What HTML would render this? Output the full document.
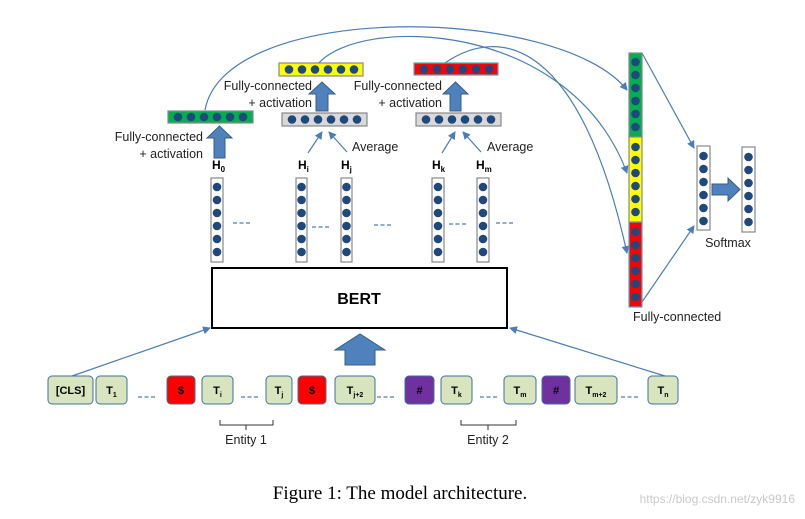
<!DOCTYPE html>
<html><head><meta charset="utf-8"><style>
html,body{margin:0;padding:0;background:#fff;width:805px;height:519px;overflow:hidden}
text{font-family:"Liberation Sans",sans-serif}
</style></head><body>
<svg width="805" height="519" viewBox="0 0 805 519" xmlns="http://www.w3.org/2000/svg">
<defs>
<marker id="ah" markerWidth="8" markerHeight="8" refX="7" refY="4" orient="auto" markerUnits="userSpaceOnUse">
<path d="M0,0 L8,4 L0,8 z" fill="#4a7ebb"/></marker>
<g id="col"><circle cx="0" cy="0" r="4.3"/><circle cx="0" cy="13" r="4.3"/><circle cx="0" cy="26" r="4.3"/><circle cx="0" cy="39" r="4.3"/><circle cx="0" cy="52" r="4.3"/><circle cx="0" cy="65" r="4.3"/></g>
</defs>
<g fill="none" stroke="#4a7ebb" stroke-width="1.2">
<path d="M205,110 C225,0 560,5 627,90" marker-end="url(#ah)"/>
<path d="M318,64 C360,15 570,20 627,173" marker-end="url(#ah)"/>
<path d="M445,63 C500,25 580,40 627,253" marker-end="url(#ah)"/>
<line x1="642" y1="53" x2="694" y2="148" marker-end="url(#ah)"/>
<line x1="642" y1="302" x2="694" y2="226" marker-end="url(#ah)"/>
<line x1="308" y1="153" x2="322" y2="132" marker-end="url(#ah)"/>
<line x1="347" y1="152" x2="329" y2="132" marker-end="url(#ah)"/>
<line x1="442" y1="153" x2="455" y2="132" marker-end="url(#ah)"/>
<line x1="481" y1="152" x2="463" y2="132" marker-end="url(#ah)"/>
<line x1="72" y1="376" x2="210" y2="328" marker-end="url(#ah)"/>
<line x1="665" y1="376" x2="510" y2="328" marker-end="url(#ah)"/>
</g>
<g stroke="#888" stroke-width="1.2">
<rect x="168" y="111" width="85" height="12" fill="#00b050"/>
<rect x="279" y="63" width="84" height="13" fill="#ffff00"/>
<rect x="414" y="63" width="84" height="12" fill="#ff0000" stroke="#4bacc6"/>
<rect x="282" y="113" width="85" height="13" fill="#d9d9d9"/>
<rect x="416" y="113" width="85" height="13" fill="#d9d9d9"/>
</g>
<g fill="#1f497d">
<circle cx="178" cy="117" r="4.3"/><circle cx="191" cy="117" r="4.3"/><circle cx="204" cy="117" r="4.3"/><circle cx="217" cy="117" r="4.3"/><circle cx="230" cy="117" r="4.3"/><circle cx="243" cy="117" r="4.3"/>
<circle cx="289" cy="69.5" r="4.3"/><circle cx="302" cy="69.5" r="4.3"/><circle cx="315" cy="69.5" r="4.3"/><circle cx="328" cy="69.5" r="4.3"/><circle cx="341" cy="69.5" r="4.3"/><circle cx="354" cy="69.5" r="4.3"/>
<circle cx="424" cy="69" r="4.3"/><circle cx="437" cy="69" r="4.3"/><circle cx="450" cy="69" r="4.3"/><circle cx="463" cy="69" r="4.3"/><circle cx="476" cy="69" r="4.3"/><circle cx="489" cy="69" r="4.3"/>
<circle cx="292" cy="119.5" r="4.3"/><circle cx="305" cy="119.5" r="4.3"/><circle cx="318" cy="119.5" r="4.3"/><circle cx="331" cy="119.5" r="4.3"/><circle cx="344" cy="119.5" r="4.3"/><circle cx="357" cy="119.5" r="4.3"/>
<circle cx="426" cy="119.5" r="4.3"/><circle cx="439" cy="119.5" r="4.3"/><circle cx="452" cy="119.5" r="4.3"/><circle cx="465" cy="119.5" r="4.3"/><circle cx="478" cy="119.5" r="4.3"/><circle cx="491" cy="119.5" r="4.3"/>
</g>
<g fill="#4f81bd" stroke="#385d8a" stroke-width="1">
<path d="M214,158 L214,138 L207,138 L219.5,126 L232,138 L225,138 L225,158 z"/>
<path d="M316,111 L316,94 L309,94 L322,82 L335,94 L328,94 L328,111 z"/>
<path d="M450,111 L450,94 L443,94 L455.5,82 L468,94 L461,94 L461,111 z"/>
<path d="M345,365 L345,350 L335,350 L360,334 L385,350 L375,350 L375,365 z"/>
<path d="M712,184 L728,184 L728,178 L740,189.5 L728,201 L728,195 L712,195 z"/>
</g>
<g stroke="#888" stroke-width="1.2" fill="#fff">
<rect x="211" y="178" width="12" height="84"/>
<rect x="296" y="178" width="11" height="84"/>
<rect x="341" y="178" width="11" height="84"/>
<rect x="432" y="178" width="12" height="84"/>
<rect x="477" y="178" width="12" height="84"/>
<rect x="697" y="146" width="13" height="84"/>
<rect x="742" y="147" width="13" height="85"/>
<rect x="629" y="53" width="13" height="84" fill="#00b050"/>
<rect x="629" y="137" width="13" height="85" fill="#ffff00"/>
<rect x="629" y="222" width="13" height="85" fill="#ff0000" stroke="#4bacc6"/>
</g>
<g fill="#1f497d">
<use href="#col" x="217" y="187"/><use href="#col" x="301.5" y="187"/><use href="#col" x="346.5" y="187"/>
<use href="#col" x="438" y="187"/><use href="#col" x="483" y="187"/>
<use href="#col" x="703.5" y="156"/><use href="#col" x="748.5" y="157"/>
<use href="#col" x="635.5" y="62"/><use href="#col" x="635.5" y="147"/><use href="#col" x="635.5" y="232"/>
</g>
<g stroke="#4a7ebb" stroke-width="1.3" stroke-dasharray="4,2.5">
<line x1="233" y1="223" x2="250" y2="223"/><line x1="312" y1="227" x2="330" y2="227"/>
<line x1="374" y1="225" x2="392" y2="225"/><line x1="449" y1="224" x2="468" y2="224"/>
<line x1="496" y1="223" x2="515" y2="223"/>
<line x1="138" y1="397" x2="156" y2="397"/><line x1="241" y1="397" x2="259" y2="397"/>
<line x1="377" y1="397" x2="394" y2="397"/><line x1="480" y1="397" x2="498" y2="397"/>
<line x1="621" y1="397" x2="640" y2="397"/>
</g>
<rect x="212" y="268" width="295" height="60" fill="#fff" stroke="#000" stroke-width="2"/>
<text x="359" y="304" font-size="16" font-weight="bold" text-anchor="middle">BERT</text>
<g font-size="12.5" fill="#222">
<text x="203" y="141" text-anchor="end">Fully-connected</text>
<text x="203" y="158" text-anchor="end">+ activation</text>
<text x="312" y="90" text-anchor="end">Fully-connected</text>
<text x="312" y="107" text-anchor="end">+ activation</text>
<text x="442" y="90" text-anchor="end">Fully-connected</text>
<text x="442" y="107" text-anchor="end">+ activation</text>
<text x="352" y="151">Average</text>
<text x="487" y="151">Average</text>
<text x="728" y="247" text-anchor="middle">Softmax</text>
<text x="633" y="321">Fully-connected</text>
<text x="246" y="444" text-anchor="middle">Entity 1</text>
<text x="488" y="444" text-anchor="middle">Entity 2</text>
</g>
<g font-size="12" font-weight="bold" fill="#000">
<text x="212" y="169">H<tspan font-size="8" dy="3">0</tspan></text>
<text x="298" y="169">H<tspan font-size="8" dy="3">i</tspan></text>
<text x="341" y="169">H<tspan font-size="8" dy="3">j</tspan></text>
<text x="432" y="169">H<tspan font-size="8" dy="3">k</tspan></text>
<text x="476" y="169">H<tspan font-size="8" dy="3">m</tspan></text>
</g>
<g fill="none" stroke="#333" stroke-width="1">
<path d="M220,420 L220,425 L273,425 L273,420 M246,425 L246,430"/>
<path d="M461,420 L461,425 L516,425 L516,420 M488,425 L488,430"/>
</g>
<g stroke="#41719c" stroke-width="1" fill="#d7e4bd">
<rect x="48" y="376" width="45" height="28" rx="4"/>
<rect x="96" y="376" width="31" height="28" rx="4"/>
<rect x="167" y="376" width="28" height="28" rx="4" fill="#ff0000"/>
<rect x="202" y="376" width="31" height="28" rx="4"/>
<rect x="266" y="376" width="26" height="28" rx="4"/>
<rect x="298" y="376" width="28" height="28" rx="4" fill="#ff0000"/>
<rect x="335" y="376" width="40" height="28" rx="4"/>
<rect x="405" y="376" width="29" height="28" rx="4" fill="#7030a0"/>
<rect x="441" y="376" width="31" height="28" rx="4"/>
<rect x="504" y="376" width="32" height="28" rx="4"/>
<rect x="542" y="376" width="28" height="28" rx="4" fill="#7030a0"/>
<rect x="575" y="376" width="42" height="28" rx="4"/>
<rect x="648" y="376" width="30" height="28" rx="4"/>
</g>
<g font-size="11" font-weight="bold" fill="#000" text-anchor="middle">
<text x="70.5" y="394">[CLS]</text>
<text x="111.5" y="394">T<tspan font-size="7" dy="3">1</tspan></text>
<text x="181" y="394">$</text>
<text x="217.5" y="394">T<tspan font-size="7" dy="3">i</tspan></text>
<text x="279" y="394">T<tspan font-size="7" dy="3">j</tspan></text>
<text x="312" y="394">$</text>
<text x="355" y="394">T<tspan font-size="7" dy="3">j+2</tspan></text>
<text x="419.5" y="394">#</text>
<text x="456.5" y="394">T<tspan font-size="7" dy="3">k</tspan></text>
<text x="520" y="394">T<tspan font-size="7" dy="3">m</tspan></text>
<text x="556" y="394">#</text>
<text x="596" y="394">T<tspan font-size="7" dy="3">m+2</tspan></text>
<text x="663" y="394">T<tspan font-size="7" dy="3">n</tspan></text>
</g>
<text x="400" y="499" font-size="19" text-anchor="middle" style="font-family:'Liberation Serif',serif">Figure 1: The model architecture.</text>
<text x="795" y="503" font-size="12" text-anchor="end" fill="#c8c8c8">https://blog.csdn.net/zyk9916</text>
</svg>
</body></html>
